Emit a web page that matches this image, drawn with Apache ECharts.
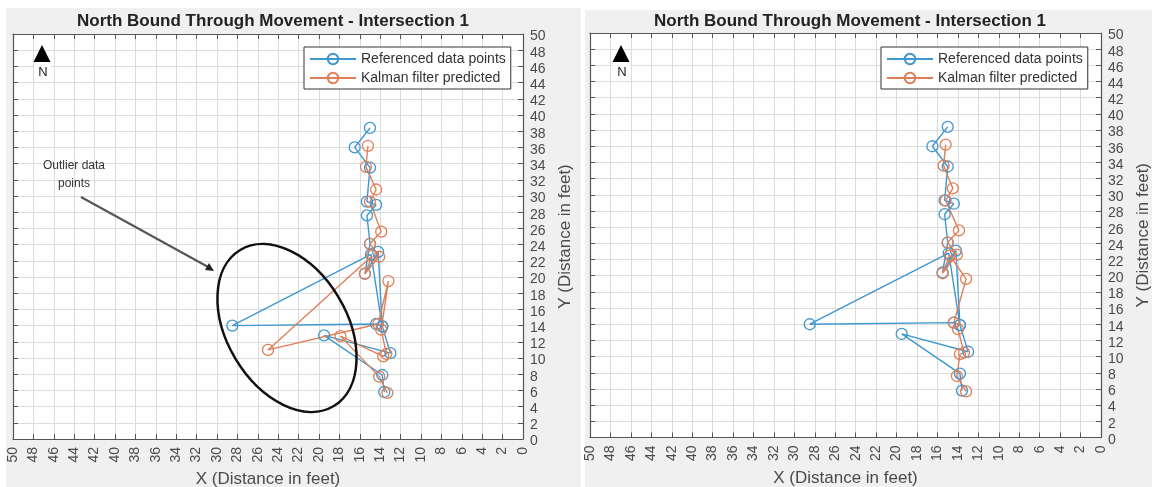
<!DOCTYPE html>
<html>
<head>
<meta charset="utf-8">
<style>
  html, body { margin: 0; background: #fff; }
  #chart { width: 1152px; height: 487px; }
</style>
</head>
<body>
<div id="chart"></div>
<script src="https://cdn.jsdelivr.net/npm/echarts@6/dist/echarts.min.js"></script>
<script>
var chartTitle = "North Bound Through Movement - Intersection 1";
var seriesNames = ["Referenced data points", "Kalman filter predicted"];

// values, [x, y] in feet
var referenced = [
  [15.0, 38.4], [16.5, 36.0], [15.0, 33.5], [15.3, 29.3], [14.4, 28.9], [15.3, 27.6],
  [15.0, 24.1], [15.5, 20.4], [14.2, 23.1], [13.8, 13.9], [14.9, 22.8], [28.5, 14.0],
  [14.4, 14.2], [13.8, 13.9], [13.0, 10.6], [19.5, 12.8], [13.8, 7.9], [13.6, 5.8]
];
var kalmanLeft = [
  [15.2, 36.2], [15.4, 33.6], [14.4, 30.8], [15.0, 29.3], [13.9, 25.6], [15.0, 24.1],
  [14.1, 22.5], [15.5, 20.4], [14.8, 22.6], [25.0, 11.0], [14.2, 14.2], [13.2, 19.5],
  [13.9, 13.5], [13.4, 10.5], [13.7, 10.2], [17.9, 12.7], [14.1, 7.7], [13.3, 5.7]
];
var kalmanRight = [
  [15.2, 36.2], [15.4, 33.6], [14.5, 30.8], [15.2, 29.3], [13.9, 25.6], [15.0, 24.1],
  [14.1, 22.6], [15.5, 20.3], [14.8, 22.5], [13.2, 19.6], [14.4, 14.2], [14.0, 13.4],
  [13.4, 10.5], [13.8, 10.3], [14.1, 7.6], [13.2, 5.7]
];

var blue = "#3f97cf";
var orange = "#e07f57";
var axisColor = "#555";
var labelColor = "#4a4a4a";
var fontName = "Liberation Sans, Arial, sans-serif";

var chart = echarts.init(document.getElementById("chart"));

function mainXAxis(grid, gap) {
  return {
    type: "value", gridIndex: grid, min: 0, max: 50, interval: 2, inverse: true,
    name: "X (Distance in feet)", nameLocation: "middle", nameGap: gap,
    nameTextStyle: { fontSize: 17, color: labelColor, fontFamily: fontName },
    axisLine: { onZero: false, lineStyle: { color: axisColor, width: 1.2 } },
    axisTick: { show: true, inside: true, length: 5, lineStyle: { color: axisColor } },
    axisLabel: { rotate: 90, fontSize: 14, margin: 8, color: labelColor, fontFamily: fontName, showMinLabel: true, showMaxLabel: true },
    splitLine: { show: true, lineStyle: { color: "#dcdcdc", width: 1 } }
  };
}
function mainYAxis(grid) {
  return {
    type: "value", gridIndex: grid, min: 0, max: 50, interval: 2, position: "right",
    name: "Y (Distance in feet)", nameLocation: "middle", nameGap: 34, nameRotate: 90,
    nameTextStyle: { fontSize: 17, color: labelColor, fontFamily: fontName },
    axisLine: { onZero: false, lineStyle: { color: axisColor, width: 1.2 } },
    axisTick: { show: true, inside: true, length: 5, lineStyle: { color: axisColor } },
    // labels sit a little under their ticks in the original
    axisLabel: { fontSize: 14, margin: 7, verticalAlign: "top", lineHeight: 5, color: labelColor, fontFamily: fontName, showMinLabel: true, showMaxLabel: true },
    splitLine: { show: true, lineStyle: { color: "#dcdcdc", width: 1 } }
  };
}
// box around the plot, matlab style: ticks on the opposite sides too
function boxXAxis(grid) {
  return {
    type: "value", gridIndex: grid, min: 0, max: 50, interval: 2, inverse: true, position: "top",
    axisLine: { onZero: false, lineStyle: { color: axisColor, width: 1.2 } },
    axisTick: { show: true, inside: true, length: 5, lineStyle: { color: axisColor } },
    axisLabel: { show: false }, splitLine: { show: false }
  };
}
function boxYAxis(grid) {
  return {
    type: "value", gridIndex: grid, min: 0, max: 50, interval: 2, position: "left",
    axisLine: { onZero: false, lineStyle: { color: axisColor, width: 1.2 } },
    axisTick: { show: true, inside: true, length: 5, lineStyle: { color: axisColor } },
    axisLabel: { show: false }, splitLine: { show: false }
  };
}
function lineSeries(name, data, color, xIdx, yIdx) {
  return {
    name: name, type: "line", xAxisIndex: xIdx, yAxisIndex: yIdx, data: data,
    symbol: "circle", symbolSize: 11, showSymbol: true, animation: false,
    itemStyle: { color: "rgba(255,255,255,0)", borderColor: color, borderWidth: 1.3 },
    lineStyle: { color: color, width: 1.4 }
  };
}
function legendAt(left) {
  return {
    data: seriesNames,
    orient: "vertical", left: left, top: 47, itemWidth: 46, itemHeight: 13, itemGap: 5,
    padding: [5, 5, 4, 5], backgroundColor: "#fff", borderColor: "#333", borderWidth: 1, borderRadius: 0,
    selectedMode: false,
    textStyle: { fontSize: 14, color: "#333", fontFamily: fontName }
  };
}
function northMark(cx) {
  return [
    { type: "polygon", z: 20, shape: { points: [[cx, 45], [cx - 8.5, 62], [cx + 8.5, 62]] }, style: { fill: "#000" } },
    { type: "rect", z: 20, shape: { x: cx - 8, y: 65, width: 17, height: 14 }, style: { fill: "#fff" } },
    { type: "text", z: 21, x: cx + 1, y: 72, style: { text: "N", fill: "#222", fontSize: 13, fontFamily: fontName, textAlign: "center", textVerticalAlign: "middle" } }
  ];
}

chart.setOption({
  animation: false,
  title: [
    { text: chartTitle, left: 268, top: 8, textAlign: "center", textStyle: { fontSize: 17, fontWeight: "bold", color: "#222", fontFamily: fontName } },
    { text: chartTitle, left: 845, top: 8, textAlign: "center", textStyle: { fontSize: 17, fontWeight: "bold", color: "#222", fontFamily: fontName } }
  ],
  grid: [
    { left: 13, top: 34, width: 510, height: 405, backgroundColor: "#fff", show: true, borderWidth: 0, outerBoundsMode: "none" },
    { left: 590, top: 33, width: 511, height: 404.5, backgroundColor: "#fff", show: true, borderWidth: 0, outerBoundsMode: "none" }
  ],
  legend: [legendAt(304), legendAt(881)],
  xAxis: [mainXAxis(0, 31), mainXAxis(1, 32), boxXAxis(0), boxXAxis(1)],
  yAxis: [mainYAxis(0), mainYAxis(1), boxYAxis(0), boxYAxis(1)],
  series: [
    lineSeries(seriesNames[0], referenced, blue, 0, 0),
    lineSeries(seriesNames[1], kalmanLeft, orange, 0, 0),
    lineSeries(seriesNames[0], referenced, blue, 1, 1),
    lineSeries(seriesNames[1], kalmanRight, orange, 1, 1)
  ],
  graphic: [
    { type: "rect", z: -10, silent: true, shape: { x: 6, y: 8, width: 575, height: 479 }, style: { fill: "#f0f0f0" } },
    { type: "rect", z: -10, silent: true, shape: { x: 585, y: 10, width: 567, height: 477 }, style: { fill: "#f0f0f0" } },
    // hand drawn notes on the left panel
    { type: "ellipse", z: 15, x: 287, y: 328, rotation: 0.54, shape: { cx: 0, cy: 0, rx: 60, ry: 91 }, style: { fill: "none", stroke: "#111", lineWidth: 2.5 } },
    { type: "line", z: 15, shape: { x1: 81, y1: 197, x2: 210, y2: 268 }, style: { stroke: "#555", lineWidth: 2 } },
    { type: "polygon", z: 15, shape: { points: [[214, 271], [205, 270], [209, 263]] }, style: { fill: "#222" } },
    { type: "text", z: 15, x: 74, y: 175, style: { text: "Outlier data\npoints", fill: "#333", fontSize: 12, lineHeight: 18, fontFamily: fontName, textAlign: "center", textVerticalAlign: "middle" } }
  ].concat(northMark(42), northMark(621))
});
</script>
</body>
</html>
